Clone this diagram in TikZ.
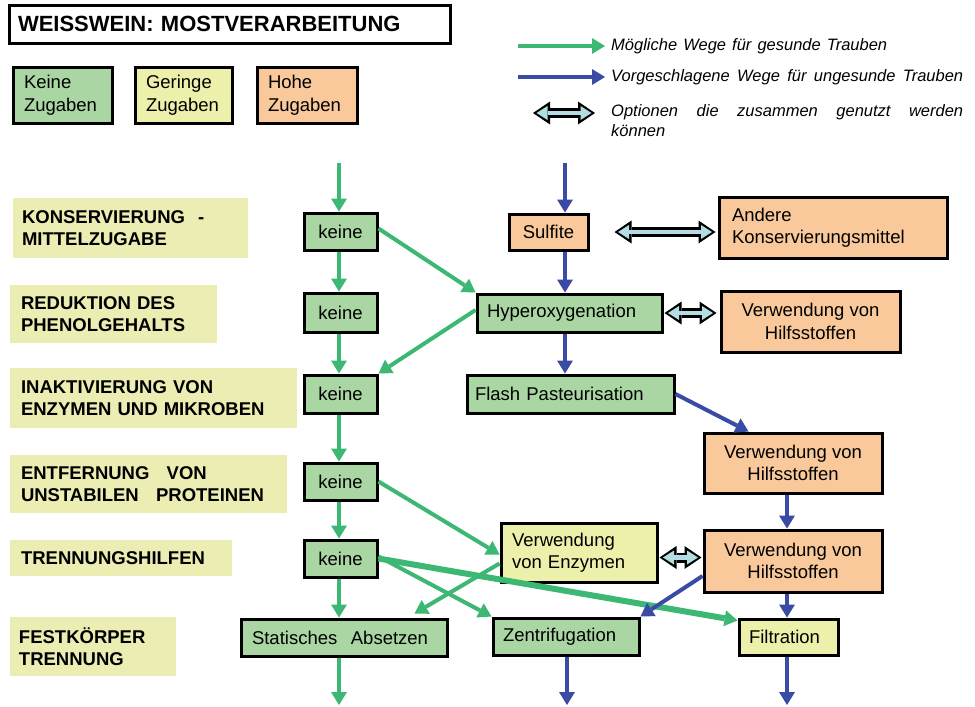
\documentclass[tikz,border=0pt]{standalone}
\usepackage{fontspec}
\setmainfont{Liberation Sans}
\usetikzlibrary{arrows.meta,calc}
\definecolor{bgreen}{HTML}{A9D6A2}
\definecolor{byellow}{HTML}{EDF0AA}
\definecolor{syellow}{HTML}{EBEDB3}
\definecolor{borange}{HTML}{F9C99B}
\definecolor{agreen}{HTML}{3DB874}
\definecolor{ablue}{HTML}{3A4BA6}
\definecolor{dblue}{HTML}{B3DDE2}
\tikzset{
  boxbase/.style={draw=black, line width=3pt, font=\fontsize{18.5}{22.5}\selectfont, inner sep=0pt},
  gbox/.style={boxbase, fill=bgreen},
  ybox/.style={boxbase, fill=byellow},
  obox/.style={boxbase, fill=borange},
  stagebox/.style={fill=syellow, font=\fontsize{18.5}{22}\selectfont\bfseries, inner sep=0pt},
  legtext/.style={font=\fontsize{16.5}{20}\selectfont\itshape, inner sep=0pt, align=left},
  garr/.style={draw=agreen, line width=4pt, -{Triangle[length=13pt,width=16pt,line width=0pt]}},
  barr/.style={draw=ablue, line width=4pt, -{Triangle[length=13pt,width=16pt,line width=0pt]}},
  dbout/.style={draw=black, line width=10pt, {Triangle[length=17pt,width=23pt,line width=0pt]}-{Triangle[length=17pt,width=23pt,line width=0pt]}},
  dbin/.style={draw=dblue, line width=4.5pt, shorten <=3.5pt, shorten >=3.5pt, {Triangle[length=11pt,width=14pt,line width=0pt]}-{Triangle[length=11pt,width=14pt,line width=0pt]}},
}
\newcommand\mkbox[7]{%
  \pgfmathsetmacro\mkbw{#4-#2}\pgfmathsetmacro\mkbh{#5-#3}%
  \pgfmathsetmacro\mkbx{(#2+#4)/2}\pgfmathsetmacro\mkby{(#3+#5)/2}%
  \node[#6, align=center, minimum width=\mkbw pt, minimum height=\mkbh pt] (#1) at (\mkbx,\mkby) {#7};}
\newcommand\mkboxl[8]{%
  \pgfmathsetmacro\mkbt{#4-#2-2*#8}\pgfmathsetmacro\mkbh{#5-#3}%
  \pgfmathsetmacro\mkbx{(#2+#4)/2}\pgfmathsetmacro\mkby{(#3+#5)/2}%
  \node[#6, align=left, text width=\mkbt pt, inner xsep=#8 pt, minimum height=\mkbh pt] (#1) at (\mkbx,\mkby) {#7};}
\newcommand\dbarrow[2]{\draw[dbout] #1 -- #2; \draw[dbin] #1 -- #2;}
\begin{document}
\begin{tikzpicture}[x=1pt,y=-1pt]
\useasboundingbox (0,0) rectangle (975,707);
\fill[white] (0,0) rectangle (975,707);

% title and legend boxes
\mkboxl{title}{9}{5}{450}{43}{boxbase, fill=white, font=\fontsize{22}{26}\selectfont\bfseries}{WEISSWEIN: MOSTVERARBEITUNG}{9}
\mkboxl{leg1}{13}{67}{112}{123}{gbox}{Keine\\Zugaben}{11}
\mkboxl{leg2}{135}{67}{232}{123}{ybox}{Geringe\\Zugaben}{11}
\mkboxl{leg3}{257}{67}{357}{123}{obox}{Hohe\\Zugaben}{11}

% legend arrows
\coordinate (lga) at (518,46); \coordinate (lgb) at (605,46);
\coordinate (lba) at (518,77); \coordinate (lbb) at (605,77);
\coordinate (lda) at (533,113); \coordinate (ldb) at (595,113);
\draw[garr] (lga) -- (lgb);
\draw[barr] (lba) -- (lbb);
\dbarrow{(lda)}{(ldb)}
\node[legtext, anchor=west] (lt1) at (611,46) {\makebox[276pt][s]{Mögliche Wege für gesunde Trauben}};
\node[legtext, anchor=west] (lt2) at (611,77) {\makebox[352pt][s]{Vorgeschlagene Wege für ungesunde Trauben}};
\node[legtext, anchor=north west] (lt3) at (611,104) {\makebox[352pt][s]{Optionen die zusammen genutzt werden}\\können};

% stage labels
\mkboxl{s1}{13}{198}{248}{258}{stagebox}{KONSERVIERUNG\hspace{0.7em}-\\MITTELZUGABE}{9}
\mkboxl{s2}{10}{285}{217}{343}{stagebox}{REDUKTION DES\\PHENOLGEHALTS}{11}
\mkboxl{s3}{10}{368}{297}{428}{stagebox}{INAKTIVIERUNG VON\\ENZYMEN UND MIKROBEN}{11}
\mkboxl{s4}{10}{455}{287}{513}{stagebox}{ENTFERNUNG\hspace{0.6em} VON\\UNSTABILEN\hspace{0.6em} PROTEINEN}{11}
\mkboxl{s5}{10}{540}{232}{576}{stagebox}{TRENNUNGSHILFEN}{11}
\mkboxl{s6}{10}{617}{176}{676}{stagebox}{FESTKÖRPER\\TRENNUNG}{9}

% keine column
\mkbox{k1}{304}{213}{377}{250}{gbox}{keine}
\mkbox{k2}{304}{293}{377}{332}{gbox}{keine}
\mkbox{k3}{304}{375}{377}{413}{gbox}{keine}
\mkbox{k4}{304}{463}{377}{500}{gbox}{keine}
\mkbox{k5}{304}{540}{377}{577}{gbox}{keine}

% process boxes
\mkbox{sulfite}{509}{214}{588}{250}{obox}{Sulfite}
\mkboxl{hyper}{477}{294}{662}{332}{gbox}{Hyperoxygenation}{10}
\mkboxl{flash}{467}{375}{674}{413}{gbox}{Flash Pasteurisation}{8}
\mkboxl{andere}{719}{197}{947}{258}{obox}{Andere\\Konservierungsmittel}{13}
\mkbox{hilfsa}{721}{291}{900}{352}{obox}{Verwendung von\\Hilfsstoffen}
\mkbox{hilfsb}{704}{433}{882}{493}{obox}{Verwendung von\\Hilfsstoffen}
\mkboxl{enzym}{501}{523}{657}{582}{ybox}{Verwendung\\von Enzymen}{11}
\mkbox{hilfsc}{704}{530}{882}{592}{obox}{Verwendung von\\Hilfsstoffen}
\mkboxl{stat}{241}{619}{447}{656}{gbox}{Statisches\hspace{0.4em} Absetzen}{11}
\mkboxl{zent}{493}{618}{639}{655}{gbox}{Zentrifugation}{10}
\mkboxl{filt}{739}{619}{838}{655}{ybox}{Filtration}{10}

% free ends
\coordinate (gin) at (339,163);
\coordinate (bin) at (565,163);
\coordinate (gend) at (339,705);
\coordinate (bmid) at (567,705);
\coordinate (bend) at (787,705);

% green paths
\draw[garr] (gin) -- (gin |- k1.north);
\draw[garr] (gin |- k1.south) -- (gin |- k2.north);
\draw[garr] (gin |- k2.south) -- (gin |- k3.north);
\draw[garr] (gin |- k3.south) -- (gin |- k4.north);
\draw[garr] (gin |- k4.south) -- (gin |- k5.north);
\draw[garr] (gin |- k5.south) -- (gin |- stat.north);
\draw[garr] (gin |- stat.south) -- (gend);
\draw[garr] ([yshift=3pt]k1.east) -- (hyper.north west);
\draw[garr] ([yshift=3pt]hyper.west) -- (k3.north east);
\draw[garr] (k4.east) -- ([yshift=-2pt]enzym.west);
\draw[garr] ([yshift=-11pt]enzym.west) -- ([xshift=-34pt,yshift=4pt]stat.north east);
\draw[garr] ([yshift=2pt]k5.east) -- (zent.north west);
\draw[garr, line width=6pt] (k5.east) -- ([yshift=-3pt]filt.north west);

% blue paths
\draw[barr] (bin) -- (bin |- sulfite.north);
\draw[barr] (bin |- sulfite.south) -- (bin |- hyper.north);
\draw[barr] (bin |- hyper.south) -- (bin |- flash.north);
\draw[barr] (flash.east) -- ([xshift=46pt]hilfsb.north west);
\draw[barr] (bend |- hilfsb.south) -- (bend |- hilfsc.north);
\draw[barr] (bend |- hilfsc.south) -- (bend |- filt.north);
\draw[barr] (bend |- filt.south) -- (bend);
\draw[barr] ([yshift=-15pt]hilfsc.west) -- (zent.north east);
\draw[barr] (bmid |- zent.south) -- (bmid);

% combined options
\dbarrow{([xshift=25pt]sulfite.east)}{([xshift=-2pt]andere.west |- sulfite.east)}
\dbarrow{([xshift=1pt]hyper.east)}{([xshift=-3pt]hilfsa.west |- hyper.east)}
\dbarrow{([yshift=-5pt,xshift=1pt]enzym.east)}{([yshift=-5pt,xshift=-1pt]enzym.east -| hilfsc.west)}
\end{tikzpicture}
\end{document}
